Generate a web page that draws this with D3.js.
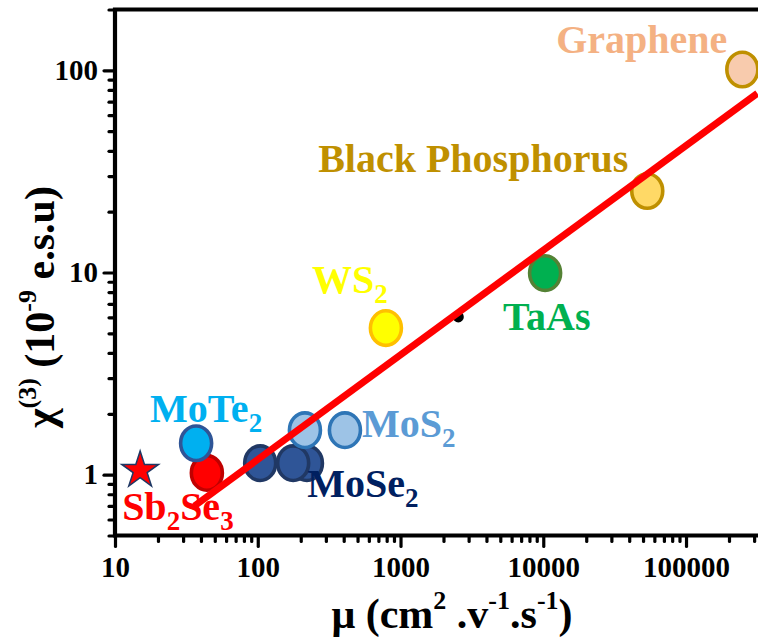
<!DOCTYPE html>
<html>
<head>
<meta charset="utf-8">
<script src="https://cdn.jsdelivr.net/npm/d3@7"></script>
<style>
body { margin: 0; background: #fff; }
svg text { font-family: "Liberation Serif", "Times New Roman", serif; font-weight: bold; }
</style>
</head>
<body>
<svg id="chart" width="758" height="639"></svg>
<script>
// data
var pointName = ["MoSe2", "MoSe2", "MoSe2", "MoS2", "MoS2", "Sb2Se3", "MoTe2", "WS2", "TaAs", "Black Phosphorus", "Graphene"];
var mobility  = [221, 104, 177, 214, 408, 44, 37, 790, 10300, 53500, 248000];
var chi3      = [1.14, 1.14, 1.14, 1.66, 1.66, 1.02, 1.43, 5.31, 9.93, 25.3, 101];

var starMobility = [15];
var starChi3 = [1.05];

var dotMobility = [2540];
var dotChi3 = [6.03];

// linear fit on log-log axes, two end points
var fitMobility = [36, 316000];
var fitChi3 = [0.70, 77];

var xTickLabels = ["10", "100", "1000", "10000", "100000"];
var yTickLabels = ["1", "10", "100"];

var labelText = ["Graphene", "Black Phosphorus", "TaAs", "WS2", "MoTe2", "MoS2", "MoSe2", "Sb2Se3"];

var fills = {
  "Graphene": "#f8cbad", "Black Phosphorus": "#ffd966", "TaAs": "#00b050", "WS2": "#ffff00",
  "MoTe2": "#00b0f0", "MoS2": "#9dc3e6", "MoSe2": "#2f5597", "Sb2Se3": "#ff0000"
};
var strokes = {
  "Graphene": "#bf9000", "Black Phosphorus": "#bf9000", "TaAs": "#548235", "WS2": "#ffc000",
  "MoTe2": "#2f5597", "MoS2": "#2e75b6", "MoSe2": "#203864", "Sb2Se3": "#c00000"
};
var labelColor = {
  "Graphene": "#f4b183", "Black Phosphorus": "#bf9000", "TaAs": "#00b050", "WS2": "#ffff00",
  "MoTe2": "#00b0f0", "MoS2": "#5b9bd5", "MoSe2": "#002060", "Sb2Se3": "#ff0000"
};
// label placement: index of anchor point (-1 = star), offset, anchor
var labelPos = {
  "Graphene": [10, -15, -16, "end"],
  "Black Phosphorus": [9, -19, -19, "end"],
  "TaAs": [8, -42, 57, "start"],
  "WS2": [7, -74, -35, "start"],
  "MoTe2": [6, -46, -21, "start"],
  "MoS2": [4, 17, 7, "start"],
  "MoSe2": [2, 14, 34, "start"],
  "Sb2Se3": [-1, -18, 50, "start"]
};

var serif = "'Liberation Serif', 'Times New Roman', serif";
var svg = d3.select("#chart");

var x = d3.scaleLog().domain([10, Math.pow(10, 5.5)]).range([115, 757.4]);
var y = d3.scaleLog().domain([0.5, 200]).range([535.5, 9.5]);

var pLeft = 115, pRight = 758, pTop = 9.5, pBottom = 535.5;

// minor ticks
var xMinor = x.ticks().filter(function(d) { return xTickLabels.indexOf(String(d)) < 0; });
var yMinor = y.ticks().filter(function(d) { return yTickLabels.indexOf(String(d)) < 0; });

var gxMinor = svg.append("g").attr("transform", "translate(0," + pBottom + ")")
  .call(d3.axisBottom(x).tickValues(xMinor).tickSize(6).tickSizeOuter(0).tickFormat(""));
var gxMajor = svg.append("g").attr("transform", "translate(0," + pBottom + ")")
  .call(d3.axisBottom(x).tickValues(xTickLabels.map(Number)).tickSize(11).tickSizeOuter(0).tickPadding(10)
    .tickFormat(d3.format("d")));
var gyMinor = svg.append("g").attr("transform", "translate(" + pLeft + ",0)")
  .call(d3.axisLeft(y).tickValues(yMinor).tickSize(6).tickSizeOuter(0).tickFormat(""));
var gyMajor = svg.append("g").attr("transform", "translate(" + pLeft + ",0)")
  .call(d3.axisLeft(y).tickValues(yTickLabels.map(Number)).tickSize(11).tickSizeOuter(0).tickPadding(6)
    .tickFormat(d3.format("d")));

[gxMinor, gxMajor, gyMinor, gyMajor].forEach(function(g) {
  g.attr("font-family", serif).attr("font-size", 29).attr("font-weight", "bold");
  g.select(".domain").remove();
  g.selectAll(".tick line").attr("stroke", "#000").attr("stroke-width", 3.2).attr("stroke-linecap", "round");
  g.selectAll(".tick text").attr("fill", "#000");
});

// frame: left, bottom, top
svg.append("path")
  .attr("d", "M" + pRight + "," + pTop + "H" + pLeft + "V" + pBottom + "H" + pRight)
  .attr("fill", "none").attr("stroke", "#000").attr("stroke-width", 4.2).attr("stroke-linecap", "square");

// points
var pts = pointName.map(function(n, i) { return { name: n, mu: mobility[i], chi: chi3[i] }; });
svg.append("g").selectAll("ellipse")
  .data(pts).enter().append("ellipse")
  .attr("cx", function(d) { return x(d.mu); })
  .attr("cy", function(d) { return y(d.chi); })
  .attr("rx", 15.5).attr("ry", 17.3)
  .attr("fill", function(d) { return fills[d.name]; })
  .attr("stroke", function(d) { return strokes[d.name]; })
  .attr("stroke-width", 3.6);

// star for Sb2Se3
var star = d3.symbol().type(d3.symbolStar).size(420);
svg.append("g").selectAll("path")
  .data(starMobility.map(function(m, i) { return { mu: m, chi: starChi3[i] }; }))
  .enter().append("path")
  .attr("d", star)
  .attr("transform", function(d) { return "translate(" + x(d.mu) + "," + y(d.chi) + ")"; })
  .attr("fill", "#ff0000").attr("stroke", "#1f3864").attr("stroke-width", 1.5);

// small black dot
svg.append("g").selectAll("circle")
  .data(dotMobility.map(function(m, i) { return { mu: m, chi: dotChi3[i] }; }))
  .enter().append("circle")
  .attr("cx", function(d) { return x(d.mu); })
  .attr("cy", function(d) { return y(d.chi); })
  .attr("r", 5.5).attr("fill", "#000");

// fit line
var line = d3.line().x(function(d) { return x(d[0]); }).y(function(d) { return y(d[1]); });
svg.append("path")
  .datum(fitMobility.map(function(m, i) { return [m, fitChi3[i]]; }))
  .attr("d", line)
  .attr("fill", "none").attr("stroke", "#ff0000").attr("stroke-width", 7);

// material labels, digits as subscripts
labelText.forEach(function(t) {
  var p = labelPos[t];
  var ax, ay;
  if (p[0] < 0) { ax = x(starMobility[0]); ay = y(starChi3[0]); }
  else { ax = x(mobility[p[0]]); ay = y(chi3[p[0]]); }
  var txt = svg.append("text")
    .attr("x", ax + p[1]).attr("y", ay + p[2])
    .attr("text-anchor", p[3])
    .attr("fill", labelColor[t])
    .style("font-size", "40px");
  var parts = t.split(/(\d+)/).filter(function(s) { return s.length; });
  var sub = false;
  parts.forEach(function(s) {
    if (/^\d+$/.test(s)) {
      txt.append("tspan").attr("dy", 10).style("font-size", "27px").text(s);
      sub = true;
    } else {
      txt.append("tspan").attr("dy", sub ? -10 : 0).text(s);
      sub = false;
    }
  });
});

// x axis title
var xt = svg.append("text").attr("x", 452).attr("y", 628).attr("text-anchor", "middle")
  .attr("fill", "#000").style("font-size", "42px");
xt.append("tspan").text("\u03bc (cm");
xt.append("tspan").attr("dy", -19).style("font-size", "26px").text("2");
xt.append("tspan").attr("dy", 19).text(" .v");
xt.append("tspan").attr("dy", -19).style("font-size", "26px").text("-1");
xt.append("tspan").attr("dy", 19).text(".s");
xt.append("tspan").attr("dy", -19).style("font-size", "26px").text("-1");
xt.append("tspan").attr("dy", 19).text(")");

// y axis title
var yt = svg.append("text").attr("transform", "translate(54,307) rotate(-90)").attr("text-anchor", "middle")
  .attr("fill", "#000").style("font-size", "42px");
yt.append("tspan").text("\u03c7");
yt.append("tspan").attr("dy", -18).style("font-size", "26px").text("(3)");
yt.append("tspan").attr("dy", 18).text(" (10");
yt.append("tspan").attr("dy", -18).style("font-size", "26px").text("-9");
yt.append("tspan").attr("dy", 18).text("  e.s.u)");
</script>
</body>
</html>
